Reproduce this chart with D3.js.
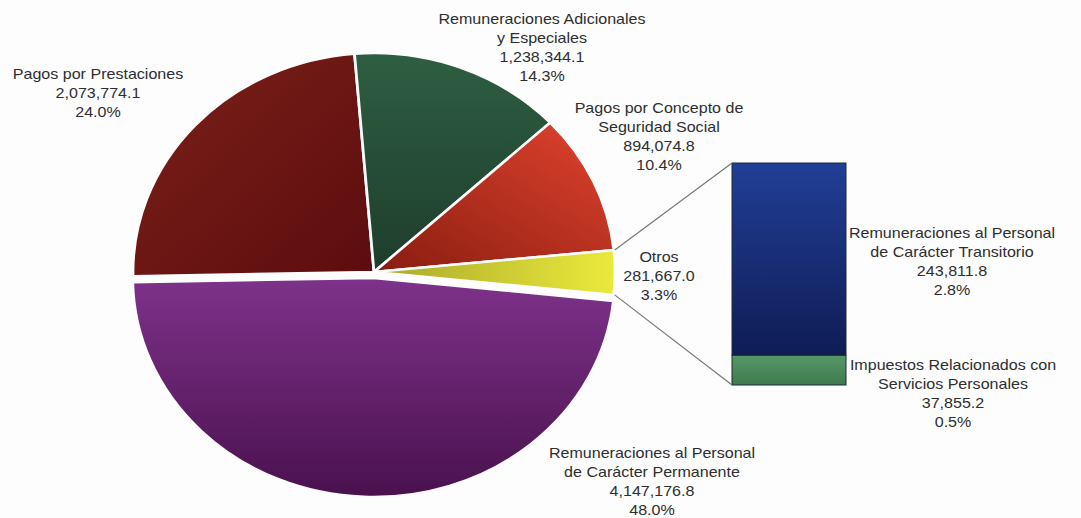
<!DOCTYPE html>
<html lang="es">
<head>
<meta charset="UTF-8">
<title>Servicios Personales</title>
<script src="https://d3js.org/d3.v7.min.js"></script>
<style>
  body { margin: 0; background: #fdfdfd; }
  text { font-family: "Liberation Sans", Arial, sans-serif; font-size: 14.6px; fill: #2e2e2e; }
</style>
</head>
<body>
<svg width="1081" height="518"></svg>
<script>
// main pie data
const categories = ["Remuneraciones al Personal de Carácter Permanente", "Pagos por Prestaciones",
  "Remuneraciones Adicionales y Especiales", "Pagos por Concepto de Seguridad Social", "Otros"]
const values = [4147176.8, 2073774.1, 1238344.1, 894074.8, 281667.0]
const percents = ["48.0%", "24.0%", "14.3%", "10.4%", "3.3%"]
const labelLines = [["Remuneraciones al Personal", "de Carácter Permanente"], ["Pagos por Prestaciones"],
  ["Remuneraciones Adicionales", "y Especiales"], ["Pagos por Concepto de", "Seguridad Social"], ["Otros"]]

// breakdown of "Otros" (bottom to top)
const otrosCategories = ["Impuestos Relacionados con Servicios Personales", "Remuneraciones al Personal de Carácter Transitorio"]
const otrosValues = [37855.2, 243811.8]
const otrosPercents = ["0.5%", "2.8%"]
const otrosLines = [["Impuestos Relacionados con", "Servicios Personales"], ["Remuneraciones al Personal", "de Carácter Transitorio"]]

// layout
const cx = 374, cy = 272, rx = 241, ry = 219
const sx = rx / ry   // the whole picture is a bit stretched sideways
const startDeg = 96
const sliceColors = [["#7e328a", "#4a114e"], ["#7c2119", "#5c0c0e"], ["#2e5e42", "#1e3d2c"],
  ["#e2432e", "#881d10"], ["#eaea3c", "#a8a82a"]]
const gradDir = [[0, 0, 0, 1], [0, 0, 1, 1], [0, 0, 0, 1], [1, 0, 0, 1], [1, 0, 0, 0]]
const explode = [6, 0, 0, 0, 0]
const labelPos = [[652, 453], [98, 74], [542, 19], [659, 108], [659, 257]]
const otrosLabelPos = [[953, 365], [952, 233]]
const lineH = 19
const fmt = d3.format(",.1f")

const svg = d3.select("svg")
const defs = svg.append("defs")

sliceColors.forEach((c, i) => {
  let g = defs.append("linearGradient").attr("id", "g" + i)
    .attr("x1", gradDir[i][0]).attr("y1", gradDir[i][1]).attr("x2", gradDir[i][2]).attr("y2", gradDir[i][3])
  g.append("stop").attr("offset", "0%").attr("stop-color", c[0])
  g.append("stop").attr("offset", "100%").attr("stop-color", c[1])
})
let gb = defs.append("linearGradient").attr("id", "gBlue").attr("x1", 0).attr("y1", 0).attr("x2", 0).attr("y2", 1)
gb.append("stop").attr("offset", "0%").attr("stop-color", "#213f96")
gb.append("stop").attr("offset", "100%").attr("stop-color", "#0f1c55")
let gg = defs.append("linearGradient").attr("id", "gGreen").attr("x1", 0).attr("y1", 0).attr("x2", 0).attr("y2", 1)
gg.append("stop").attr("offset", "0%").attr("stop-color", "#569868")
gg.append("stop").attr("offset", "100%").attr("stop-color", "#3f7a50")

const s0 = startDeg * Math.PI / 180
const pie = d3.pie().sort(null).startAngle(s0).endAngle(s0 + 2 * Math.PI)
const arcs = pie(values)
const arc = d3.arc().innerRadius(0).outerRadius(ry)

const gPie = svg.append("g").attr("transform", `translate(${cx},${cy}) scale(${sx},1)`)
gPie.selectAll("path")
  .data(arcs)
  .enter()
  .append("path")
  .attr("d", arc)
  .attr("fill", (d, i) => `url(#g${i})`)
  .attr("stroke", "#fdfdfd")
  .attr("stroke-width", 2.5)
  .attr("transform", (d, i) => {
    let a = (d.startAngle + d.endAngle) / 2
    return `translate(${Math.sin(a) * explode[i]},${-Math.cos(a) * explode[i]})`
  })

// stacked bar for Otros
const bx0 = 732, bx1 = 846
const y = d3.scaleLinear().domain([0, d3.sum(otrosValues)]).range([385, 163])
let cum = 0
const stack = otrosValues.map(v => { let r = [cum, cum + v]; cum += v; return r })
svg.selectAll(".bar")
  .data(stack)
  .enter()
  .append("rect")
  .attr("x", bx0).attr("width", bx1 - bx0)
  .attr("y", d => y(d[1])).attr("height", d => y(d[0]) - y(d[1]))
  .attr("fill", (d, i) => i == 0 ? "url(#gGreen)" : "url(#gBlue)")
  .attr("stroke", "#1c2a3a").attr("stroke-width", 1)

// connector lines from the Otros slice to the bar
const oa = arcs[4]
const pt = a => [cx + rx * Math.sin(a), cy - ry * Math.cos(a)]
const pTop = pt(oa.startAngle), pBot = pt(oa.endAngle)
svg.append("line").attr("x1", pTop[0] + 1).attr("y1", pTop[1]).attr("x2", bx0).attr("y2", y(cum))
  .attr("stroke", "#777").attr("stroke-width", 1.2)
svg.append("line").attr("x1", pBot[0] + 1).attr("y1", pBot[1]).attr("x2", bx0).attr("y2", y(0))
  .attr("stroke", "#777").attr("stroke-width", 1.2)

function drawLabel(lines, pos) {
  let t = svg.append("text").attr("text-anchor", "middle")
    .attr("transform", `translate(${pos[0]},${pos[1] + 5}) scale(${sx},1)`)
  lines.forEach((l, k) => {
    t.append("tspan").attr("x", 0).attr("y", k * lineH).text(l)
  })
}
values.forEach((v, i) => drawLabel(labelLines[i].concat([fmt(v), percents[i]]), labelPos[i]))
otrosValues.forEach((v, i) => drawLabel(otrosLines[i].concat([fmt(v), otrosPercents[i]]), otrosLabelPos[i]))
</script>
</body>
</html>
